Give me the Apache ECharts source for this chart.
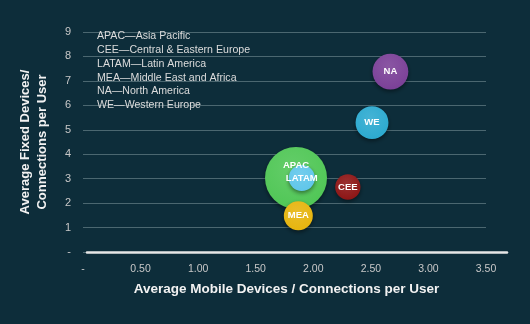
<!DOCTYPE html>
<html><head><meta charset="utf-8">
<script src="https://cdn.jsdelivr.net/npm/echarts@6/dist/echarts.min.js"></script>
<style>html,body{margin:0;padding:0;background:#0e2e3b;}#c{width:530px;height:324px;}</style>
</head><body><div id="c"></div>
<script>
const regions = ['APAC', 'LATAM', 'MEA', 'CEE', 'WE', 'NA'];
const mobile = [1.85, 1.90, 1.87, 2.30, 2.51, 2.67];
const fixed = [3.03, 3.03, 1.48, 2.66, 5.29, 7.38];
const users = [9.6, 1.7, 2.1, 1.6, 2.7, 3.2];
const colors = ['#4fc655', '#5fc6ea', '#e6b40c', '#8c1414', '#2aa9cf', '#7a3f97'];
const xTicks = ['-', '0.50', '1.00', '1.50', '2.00', '2.50', '3.00', '3.50'];
const yTicks = ['-', '1', '2', '3', '4', '5', '6', '7', '8', '9'];
const legendLines = ['APAC\u2014Asia Pacific', 'CEE\u2014Central & Eastern Europe', 'LATAM\u2014Latin America', 'MEA\u2014Middle East and Africa', 'NA\u2014North America', 'WE\u2014Western Europe'];

function lighten(hex, f) {
  const n = parseInt(hex.slice(1), 16);
  let r = n >> 16, g = (n >> 8) & 255, b = n & 255;
  r = Math.round(r + (255 - r) * f); g = Math.round(g + (255 - g) * f); b = Math.round(b + (255 - b) * f);
  return 'rgb(' + r + ',' + g + ',' + b + ')';
}

const data = regions.map((r, i) => ({
  name: r,
  value: [mobile[i], fixed[i], users[i]],
  itemStyle: {
    opacity: 1,
    color: {type: 'radial', x: 0.45, y: 0.35, r: 0.7,
      colorStops: [{offset: 0, color: lighten(colors[i], 0.12)}, {offset: 1, color: colors[i]}]},
    shadowBlur: 4, shadowColor: 'rgba(0,0,0,0.45)', shadowOffsetY: 2
  },
  label: r === 'APAC' ? {position: 'insideTop', distance: 13} : {}
}));

const chart = echarts.init(document.getElementById('c'));
const font = 'Liberation Sans, Arial, sans-serif';
chart.setOption({
  backgroundColor: '#0d2d3a',
  animation: false,
  title: {
    text: legendLines.join('\n'), left: 92, top: 24,
    textStyle: {color: '#dcdcdc', fontSize: 10.6, fontWeight: 'normal', fontFamily: font, lineHeight: 13.9}
  },
  grid: [
    {left: 83, right: 44, top: 32, bottom: 72},
    {left: 87, right: 23, top: 32, bottom: 72}
  ],
  xAxis: [{
    gridIndex: 0, type: 'value', min: 0, max: 3.5, interval: 0.5,
    name: 'Average Mobile Devices / Connections per User', nameLocation: 'middle', nameGap: 30,
    nameTextStyle: {color: '#f2f2f2', fontSize: 13.5, fontWeight: 'bold', fontFamily: font, padding: [0, 0, 0, 4]},
    axisLine: {show: false}, axisTick: {show: false}, splitLine: {show: false},
    axisLabel: {color: '#c8c8c8', fontSize: 10.5, fontFamily: font, margin: 12,
      formatter: (v) => xTicks[Math.round(v / 0.5)]}
  }, {
    gridIndex: 1, type: 'value', min: 0, max: 1,
    axisLine: {show: true, lineStyle: {color: '#e6e6e6', width: 2.5}},
    axisTick: {show: false}, axisLabel: {show: false}, splitLine: {show: false}
  }],
  yAxis: [{
    gridIndex: 0, type: 'value', min: 0, max: 9, interval: 1,
    name: 'Average Fixed Devices/\nConnections per User', nameLocation: 'middle', nameGap: 32,
    nameTextStyle: {color: '#f2f2f2', fontSize: 13, fontWeight: 'bold', fontFamily: font, lineHeight: 17},
    axisLine: {show: false}, axisTick: {show: false},
    splitLine: {show: true, lineStyle: {color: '#4b6770', width: 1}},
    axisLabel: {color: '#c8c8c8', fontSize: 11, fontFamily: font, margin: 12,
      formatter: (v) => yTicks[Math.round(v)]}
  }, {
    gridIndex: 1, type: 'value', show: false
  }],
  series: [{
    type: 'scatter', xAxisIndex: 0, yAxisIndex: 0,
    symbolSize: (v) => Math.sqrt(v[2]) * 20,
    data: data,
    label: {show: true, position: 'inside', formatter: '{b}', color: '#ffffff', fontSize: 9.5, fontWeight: 'bold', fontFamily: font},
    emphasis: {disabled: true},
    z: 3
  }]
});
</script></body></html>
